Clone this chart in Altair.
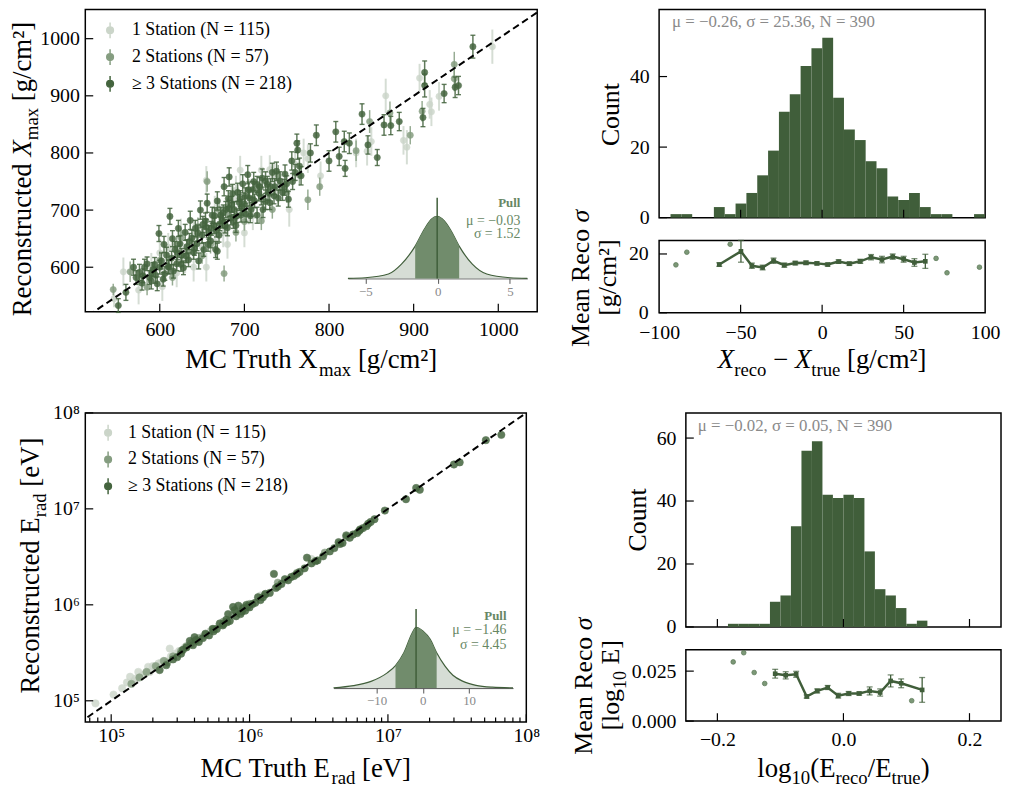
import altair as alt
import pandas as pd

FONT = "Liberation Serif"
DARK = "#405e3a"
COL3 = "#44643e"
COL2 = "#859d80"
COL1 = "#cbd5c9"
STAT_GRAY = "#8a8a8a"
INSET_LIGHT = "#c5cfc3"
INSET_DARK = "#718c6c"
INSET_TXT = "#678764"
ISO = "#6e8d69"

CATS = ["1 Station (N = 115)", "2 Stations (N = 57)", "≥ 3 Stations (N = 218)"]
CAT_COLORS = [COL1, COL2, COL3]

# ---------------- X_max scatter: (MC truth, reconstructed, error) ----------------
xmax_1 = [(546,545,15),(557,592,25),(575,560,25),(590,600,25),(603,566,25),(610,635,25),(620,590,25),
          (630,615,25),(640,655,25),(650,636,25),(655,600,25),(655,752,25),(665,700,25),(675,660,25),
          (685,720,25),(695,770,25),(700,660,25),(710,690,25),(720,770,25),(730,771,25),(740,735,25),
          (753,701,30),(760,780,25),(775,790,25),(790,760,25),(832,800,25),(845,803,25),(850,820,25),
          (867,900,30),(888,822,25),(892,810,30),(907,931,25),(919,885,25),(921,872,25),(930,899,25),
          (993,986,30),(770,800,25),(680,640,25),(640,600,25),(600,625,25),(625,660,25),(665,645,25),
          (690,735,25),(705,700,25),(735,760,25)]
xmax_2 = [(545,561,10),(565,592,18),(585,565,14),(600,612,16),(615,582,14),(625,652,16),(635,627,14),
          (645,671,16),(656,750,18),(660,640,16),(670,701,18),(676,589,14),(690,661,16),(705,736,18),
          (720,681,16),(733,701,16),(740,761,18),(750,731,18),(765,761,18),(775,718,18),(789,741,16),
          (832,804,18),(848,855,20),(872,870,20),(896,831,16),(910,873,18),(948,955,22),(948,930,22),
          (620,640,14),(650,620,14),(680,705,16),(700,680,16),(710,720,16),(590,590,14)]
xmax_3 = [(551,533,12),(560,556,14),(569,600,14),(572,582,12),(576,591,14),(579,572,12),(582,600,14),
          (585,606,12),(588,582,12),(590,576,14),(592,596,12),(595,586,14),(597,571,12),(599,659,14),
          (600,600,12),(602,611,14),(604,579,12),(606,589,12),(608,621,14),(610,601,12),(612,689,14),
          (614,616,12),(616,593,12),(618,631,14),(620,606,12),(622,668,14),(624,641,14),(626,621,12),
          (628,599,12),(630,661,14),(632,636,12),(634,613,12),(636,682,16),(638,651,14),(640,626,12),
          (642,668,14),(644,641,12),(646,611,14),(648,700,16),(650,656,14),(652,631,12),(654,681,14),
          (656,712,16),(658,661,12),(660,646,12),(662,691,14),(664,673,14),(666,631,14),(668,716,16),
          (668,628,14),(670,656,12),(672,691,14),(674,681,12),(676,741,16),(678,701,14),(680,669,14),
          (682,758,16),(682,703,14),(684,686,12),(686,729,16),(688,701,14),(690,673,12),(692,731,16),
          (694,713,14),(696,691,12),(698,746,16),(700,711,14),(702,693,14),(704,762,16),(706,721,14),
          (708,701,12),(710,736,14),(712,716,12),(715,691,14),(718,741,16),(720,723,14),(722,701,14),
          (725,751,16),(728,731,14),(730,713,12),(733,766,16),(736,741,14),(740,721,14),(742,751,16),
          (745,731,14),(748,763,16),(750,746,14),(752,719,14),(756,786,16),(760,766,14),(762,817,16),
          (763,805,16),(765,777,14),(767,760,16),(778,800,16),(785,831,18),(800,786,18),(808,837,18),
          (812,794,16),(818,820,18),(819,773,14),(824,817,18),(839,868,18),(846,814,16),(857,792,14),
          (865,849,18),(873,848,16),(883,855,16),(911,862,16),(913,941,20),(913,918,20),(936,904,16),
          (949,915,18),(953,918,16),(970,986,20),(645,660,14),(655,670,14),(665,690,14),(675,695,14),
          (685,710,14),(695,720,14),(705,735,14),(715,745,14),(725,715,14),(735,725,14),(605,640,14),
          (615,650,14),(625,605,12),(635,645,14),(657,640,12),(667,665,12),(677,672,12),(687,680,12),
          (697,705,14),(707,690,12),(717,730,14),(727,745,14),(747,740,14),(757,750,14),(580,585,12),
          (594,605,12),(611,600,12),(621,625,12),(631,620,12),(641,633,12),(651,675,14),(661,668,12),
          (671,676,12),(681,720,14),(691,690,12),(701,725,14),(711,750,16),(721,756,16),(731,741,14),
          (738,768,16)]

# ---------------- E_rad scatter: (MC truth, reconstructed) in eV ----------------
erad_1 = [(7.7e4,9.4e4),(1.04e5,1.16e5),(1.2e5,1.35e5),(1.3e5,1.55e5),(1.37e5,1.78e5),(1.45e5,1.6e5),
          (1.5e5,1.7e5),(1.57e5,2.0e5),(1.65e5,1.8e5),(1.75e5,1.9e5),(1.85e5,2.26e5),(1.9e5,2.0e5),
          (2.0e5,2.3e5),(2.1e5,2.2e5),(2.2e5,2.45e5),(2.3e5,2.5e5),(2.45e5,2.6e5),(2.65e5,3.5e5),
          (2.7e5,2.9e5),(2.9e5,3.1e5),(3.1e5,3.3e5),(3.4e5,3.6e5),(3.7e5,3.8e5),(4.1e5,4.2e5),
          (4.6e5,4.7e5),(5.2e5,5.3e5),(6.0e5,6.1e5),(7.5e5,7.8e5),(9.0e5,9.5e5),(1.2e6,1.25e6),
          (2.8e6,3.0e6)]
erad_2 = [(1.4e5,1.5e5),(1.6e5,1.75e5),(1.8e5,2.0e5),(2.1e5,2.3e5),(2.4e5,2.6e5),(2.55e5,2.5e5),
          (2.8e5,2.9e5),(3.2e5,3.3e5),(3.5e5,3.7e5),(3.8e5,4.0e5),(4.3e5,4.5e5),(4.8e5,4.9e5),
          (5.5e5,5.6e5),(6.5e5,6.7e5),(8.0e5,8.3e5),(1.0e6,1.02e6),(1.3e6,1.28e6),(1.6e6,1.7e6),
          (2.2e6,2.15e6),(3.5e6,3.5e6),(5.0e6,5.1e6)]
erad_3 = [(2.24e5,2.09e5),(2.5e5,2.35e5),(2.8e5,2.7e5),(3.0e5,2.85e5),(3.2e5,3.1e5),(3.5e5,3.6e5),
          (3.7e5,4.2e5),(3.9e5,3.8e5),(4.1e5,4.3e5),(4.3e5,4.1e5),(4.6e5,4.5e5),(4.8e5,5.0e5),
          (5.1e5,4.8e5),(5.4e5,5.6e5),(5.8e5,5.6e5),(6.1e5,6.4e5),(6.4e5,6.1e5),(6.8e5,7.0e5),
          (7.0e5,8.0e5),(7.2e5,6.8e5),(7.6e5,9.5e5),(7.8e5,8.8e5),(8.0e5,7.6e5),(8.3e5,9.8e5),
          (8.6e5,8.0e5),(9.0e5,9.2e5),(9.3e5,8.7e5),(9.7e5,9.6e5),(1.0e6,9.4e5),(1.05e6,1.02e6),
          (1.1e6,1.05e6),(1.15e6,1.2e6),(1.2e6,1.12e6),(1.3e6,1.3e6),(1.4e6,1.33e6),(1.5e6,2.1e6),
          (1.55e6,1.5e6),(1.7e6,1.65e6),(1.8e6,1.85e6),(1.9e6,1.8e6),(2.1e6,2.0e6),(2.3e6,2.2e6),
          (2.5e6,2.4e6),(2.6e6,3.1e6),(2.8e6,2.7e6),(3.1e6,2.9e6),(3.4e6,3.2e6),(3.8e6,3.6e6),
          (4.1e6,3.9e6),(4.4e6,4.5e6),(4.7e6,4.4e6),(5.0e6,5.3e6),(5.3e6,5.0e6),(5.6e6,5.4e6),
          (6.0e6,5.6e6),(6.3e6,6.1e6),(6.6e6,6.3e6),(7.0e6,6.6e6),(7.5e6,7.3e6),(8.0e6,7.8e6),
          (9.5e6,9.6e6),(1.35e7,1.26e7),(1.6e7,1.65e7),(1.7e7,1.58e7),(3.0e7,2.9e7),(3.3e7,3.05e7),
          (5.1e7,5.2e7),(6.6e7,5.9e7),(2.0e6,1.95e6),(1.25e6,1.2e6),(6.5e5,6.3e5),(4.0e5,4.6e5),
          (3.3e5,3.4e5),(5.5e5,5.3e5),(6.9e5,6.6e5),(8.8e5,8.5e5),(9.5e5,1.0e6),(1.6e6,1.55e6),
          (2.2e6,2.1e6),(3.0e6,2.85e6),(4.5e6,4.3e6),(6.2e6,5.9e6),(7.2e6,7.0e6)]

# ---------------- tick values ----------------
xmax_ticks = [600, 700, 800, 900, 1000]
erad_major = [1e5, 1e6, 1e7, 1e8]
erad_minor = [7e4, 8e4, 9e4, 2e5, 3e5, 4e5, 5e5, 6e5, 7e5, 8e5, 9e5, 2e6, 3e6, 4e6, 5e6, 6e6,
              7e6, 8e6, 9e6, 2e7, 3e7, 4e7, 5e7, 6e7, 7e7, 8e7, 9e7]

# ---------------- pull insets (density curves) ----------------
pullx_x = [-6.2, -5, -3.4, -2.5, -1.55, -0.9, -0.45, -0.03, 0.45, 0.9, 1.49, 2.4, 3.4, 5, 6.2]
pullx_d = [0.0, 0.01, 0.07, 0.23, 0.52, 0.8, 0.95, 1.0, 0.93, 0.78, 0.52, 0.23, 0.07, 0.01, 0.0]
pullx_mu, pullx_lo, pullx_hi = -0.03, -1.55, 1.49
pulle_x = [-19.3, -15, -11.2, -7.7, -5.91, -4.1, -2.4, -1.46, 0, 1.6, 2.99, 4.8, 6.5, 8.7, 11.5, 15, 19.5]
pulle_d = [0.005, 0.04, 0.11, 0.25, 0.37, 0.58, 0.89, 1.0, 0.94, 0.8, 0.58, 0.36, 0.21, 0.11, 0.045, 0.015, 0.004]
pulle_mu, pulle_lo, pulle_hi = -1.46, -5.91, 2.99

# ---------------- histograms ----------------
hx_edges = [-93.0, -86.35, -79.7, -73.05, -66.4, -59.75, -53.1, -46.45, -39.8, -33.15, -26.5, -19.85,
            -13.2, -6.55, 0.1, 6.75, 13.4, 20.05, 26.7, 33.35, 40.0, 46.65, 53.3, 59.95, 66.6, 73.25,
            79.9, 86.55, 93.2, 99.85]
hx_counts = [1, 1, 0, 0, 3, 1, 4, 7, 12, 19, 30, 35, 43, 48, 51, 34, 25, 22, 16, 14, 6, 5, 7, 3, 1, 1, 0, 0, 1]
he_edges = [-0.1832, -0.1665, -0.1499, -0.1332, -0.1166, -0.0999, -0.0833, -0.0666, -0.0500, -0.0333,
            -0.0167, 0.0000, 0.0166, 0.0333, 0.0499, 0.0666, 0.0832, 0.0999, 0.1165, 0.1332]
he_counts = [1, 1, 1, 1, 8, 10, 32, 56, 59, 42, 41, 42, 41, 24, 12, 10, 6, 1, 2]

# ---------------- mean reco sigma per bin ----------------
rx_x = [-63.1, -49.8, -43.1, -36.5, -29.8, -23.2, -16.5, -9.9, -3.2, 3.4, 10.1, 16.7, 23.4, 30.0, 36.7,
        43.3, 50.0, 56.6, 63.3]
rx_y = [16.4, 20.9, 16.0, 15.4, 17.7, 16.2, 16.9, 17.0, 16.8, 16.4, 17.4, 16.7, 17.5, 18.9, 18.1, 19.1,
        18.2, 17.1, 17.5]
rx_e = [0.6, 3.7, 0.9, 0.8, 0.9, 0.7, 0.6, 0.6, 0.5, 0.5, 0.6, 0.6, 0.7, 0.9, 1.1, 0.9, 1.0, 1.3, 2.4]
rx_iso_x = [-89.7, -83.0, -56.4, 69.9, 76.6, 96.5]
rx_iso_y = [16.3, 20.6, 23.3, 18.5, 13.6, 15.5]
re_x = [-0.1083, -0.0916, -0.0750, -0.0583, -0.0416, -0.0250, -0.0083, 0.0083, 0.0250, 0.0416, 0.0583,
        0.0749, 0.0916, 0.1249]
re_y = [0.0237, 0.0229, 0.0234, 0.0123, 0.0151, 0.0168, 0.0127, 0.0138, 0.0138, 0.0151, 0.0143, 0.0201,
        0.0189, 0.0156]
re_e = [0.0022, 0.0018, 0.0015, 0.0008, 0.0010, 0.0010, 0.0012, 0.0010, 0.0008, 0.0020, 0.0018, 0.0030,
        0.0022, 0.0062]
re_iso_x = [-0.1749, -0.1582, -0.1416, -0.1249, 0.1083]
re_iso_y = [0.0296, 0.0342, 0.0243, 0.0188, 0.0102]

# =====================================================================
ONE = pd.DataFrame({"a": [0]})
CAT_SCALE = alt.Scale(domain=CATS, range=CAT_COLORS)
SYM = "M-0.42,0A0.42,0.42 0 1,0 0.42,0A0.42,0.42 0 1,0 -0.42,0ZM0,-1L0,1"

WID = {' ': 250, '(': 333, ')': 333, '[': 333, ']': 333, '/': 278, '−': 564, '=': 564, ',': 250,
       '.': 250, '²': 300, 'C': 667, 'E': 611, 'M': 889, 'N': 722, 'R': 667, 'T': 611, 'X': 722,
       'V': 722, 'a': 444, 'c': 444, 'd': 500, 'e': 444, 'g': 500, 'h': 500, 'l': 278, 'm': 778,
       'n': 500, 'o': 500, 'r': 333, 's': 389, 't': 278, 'u': 500, 'x': 500, 'σ': 550}


def tw(s, fs, italic=False):
    tot = 0
    for ch in s:
        tot += 611 if (italic and ch == 'X') else WID.get(ch, 500)
    return tot * fs / 1000.0


def pieces(parts, x, y, size=27, angle=0, color="black"):
    """Math-like label built from text runs (normal / italic / subscript)."""
    sizes = [size * 0.7 if k == "sub" else size for _, k in parts]
    widths = [tw(t, fs, k == "it") for (t, k), fs in zip(parts, sizes)]
    off = -sum(widths) / 2.0
    out = []
    for (t, k), fs, w in zip(parts, sizes, widths):
        lead = len(t) - len(t.lstrip(' '))
        out.append(alt.Chart(ONE).mark_text(
            text=t.strip(), align="left", baseline="alphabetic", font=FONT, fontSize=fs,
            fontStyle="italic" if k == "it" else "normal", angle=angle,
            dx=off + lead * 0.25 * fs, dy=size * 0.27 if k == "sub" else 0, color=color
        ).encode(x=alt.value(x), y=alt.value(y)))
        off += w
    return out


def note(text, x, y, size, color, align="left", weight="normal"):
    return alt.Chart(ONE).mark_text(text=text, align=align, baseline="middle", font=FONT,
                                    fontSize=size, color=color, fontWeight=weight
                                    ).encode(x=alt.value(x), y=alt.value(y))


def axis(**kw):
    return alt.Axis(labelFont=FONT, labelFontSize=20, labelColor="black", title=None, **kw)


def xticks(vals, scale, ax, h, length=8):
    return alt.Chart(pd.DataFrame({"v": vals})).mark_rule(color="black", strokeWidth=1.2).encode(
        x=alt.X("v:Q", scale=scale, axis=ax), y=alt.value(h), y2=alt.value(h - length))


def yticks(vals, scale, ay, length=8):
    return alt.Chart(pd.DataFrame({"v": vals})).mark_rule(color="black", strokeWidth=1.2).encode(
        y=alt.Y("v:Q", scale=scale, axis=ay), x=alt.value(0), x2=alt.value(length))


def make_legend(lx, ly, loff):
    return alt.Legend(title=None, orient="none", legendX=lx, legendY=ly, symbolType=SYM,
                      symbolSize=256, symbolStrokeWidth=1.5, symbolOpacity=1, labelFont=FONT,
                      labelFontSize=18, labelOffset=loff, rowPadding=5, padding=0, labelLimit=400)


def scatter_cat(pts, cat, xs, ys, ax, ay, legend, err=True, caps=False, size=40, opacity=0.85, bar_w=1.5):
    color = CAT_COLORS[CATS.index(cat)]
    df = pd.DataFrame({"t": [p[0] for p in pts], "r": [p[1] for p in pts], "cat": cat})
    layers = []
    if err:
        df["e"] = [p[2] for p in pts]
        base = alt.Chart(df).transform_calculate(lo="datum.r - datum.e", hi="datum.r + datum.e")
        layers.append(base.mark_rule(color=color, strokeWidth=bar_w, opacity=opacity).encode(
            x=alt.X("t:Q", scale=xs, axis=ax), y=alt.Y("lo:Q", scale=ys, axis=ay), y2="hi:Q"))
        if caps:
            for f in ("lo", "hi"):
                layers.append(base.mark_tick(orient="horizontal", size=5, thickness=1.4, color=color,
                                             opacity=opacity).encode(
                    x=alt.X("t:Q", scale=xs, axis=ax), y=alt.Y(f + ":Q", scale=ys, axis=ay)))
    layers.append(alt.Chart(df).mark_circle(size=size, opacity=opacity, strokeWidth=0.6).encode(
        x=alt.X("t:Q", scale=xs, axis=ax), y=alt.Y("r:Q", scale=ys, axis=ay),
        fill=alt.Fill("cat:N", scale=CAT_SCALE, legend=legend),
        stroke=alt.Stroke("cat:N", scale=CAT_SCALE, legend=legend)))
    return layers


def inset(dens_x, dens_d, mu, lo, hi, x_range, y_range, h, tick_vals, texts, tx, ty):
    ix = alt.Scale(domain=[dens_x[0], dens_x[-1]], range=x_range, nice=False, zero=False)
    iy = alt.Scale(domain=[0, 1], range=y_range, nice=False, zero=False)
    iax = alt.Axis(values=tick_vals, orient="bottom", offset=y_range[0] - h, domain=True,
                   domainColor="#555555", domainWidth=1, ticks=True, tickSize=5, tickColor="#555555",
                   tickWidth=1, labelColor=STAT_GRAY, labelFont=FONT, labelFontSize=13, labelPadding=2,
                   labelFlush=False, title=None)
    df = pd.DataFrame({"p": dens_x, "d": dens_d})
    light = alt.Chart(df).mark_area(color=INSET_LIGHT, interpolate="monotone",
                                    line={"color": DARK, "strokeWidth": 1.2}).encode(
        x=alt.X("p:Q", scale=ix, axis=iax), y=alt.Y("d:Q", scale=iy, axis=None), y2=alt.datum(0))
    band = alt.Chart(df).transform_filter(
        f"datum.p >= {lo} && datum.p <= {hi}").mark_area(color=INSET_DARK, interpolate="monotone").encode(
        x=alt.X("p:Q", scale=ix, axis=iax), y=alt.Y("d:Q", scale=iy, axis=None), y2=alt.datum(0))
    rule = alt.Chart(pd.DataFrame({"m": [mu], "top": [1.3]})).mark_rule(color=DARK, strokeWidth=1.5).encode(
        x=alt.X("m:Q", scale=ix, axis=iax), y=alt.Y("top:Q", scale=iy, axis=None), y2=alt.datum(0))
    txt = [note(texts[0], tx, ty[0], 13, INSET_TXT, "right", "bold"),
           note(texts[1], tx, ty[1], 14, INSET_TXT, "right"),
           note(texts[2], tx, ty[2], 14, INSET_TXT, "right")]
    return alt.layer(light, band, rule, *txt)


def resid(xl, yl, el, xi, yi, xs, ys, ax, ay, cap):
    dl = pd.DataFrame({"x": xl, "y": yl, "e": el})
    base = alt.Chart(dl).transform_calculate(lo="datum.y - datum.e", hi="datum.y + datum.e")
    line = alt.Chart(dl).mark_line(color=DARK, strokeWidth=2.5).encode(
        x=alt.X("x:Q", scale=xs, axis=ax), y=alt.Y("y:Q", scale=ys, axis=ay))
    bars = base.mark_rule(color=DARK, strokeWidth=1.3).encode(
        x=alt.X("x:Q", scale=xs, axis=ax), y=alt.Y("lo:Q", scale=ys, axis=ay), y2="hi:Q")
    caps = [base.mark_tick(orient="horizontal", size=cap, thickness=1.3, color=DARK).encode(
        x=alt.X("x:Q", scale=xs, axis=ax), y=alt.Y(f + ":Q", scale=ys, axis=ay)) for f in ("lo", "hi")]
    marks = alt.Chart(dl).mark_square(size=22, color=DARK, opacity=1).encode(
        x=alt.X("x:Q", scale=xs, axis=ax), y=alt.Y("y:Q", scale=ys, axis=ay))
    iso = alt.Chart(pd.DataFrame({"x": xi, "y": yi})).mark_circle(
        size=22, color=ISO, stroke="#4f6f4a", strokeWidth=0.8, opacity=0.9).encode(
        x=alt.X("x:Q", scale=xs, axis=ax), y=alt.Y("y:Q", scale=ys, axis=ay))
    return [line, bars] + caps + [marks, iso]


def hist(edges, counts, xs, ys, ay):
    df = pd.DataFrame({"lo": edges[:-1], "hi": edges[1:], "n": counts})
    return alt.Chart(df).transform_calculate(z="0").mark_rect(color=DARK).encode(
        x=alt.X("lo:Q", scale=xs, axis=None), x2="hi:Q",
        y=alt.Y("n:Q", scale=ys, axis=ay), y2="z:Q")


# ====================== TOP-LEFT: X_max scatter ======================
TLW, TLH = 456, 305
xs_tl = alt.Scale(domain=[512, 1046], nice=False, zero=False)
ys_tl = alt.Scale(domain=[522, 1051], nice=False, zero=False)
ax_tl = axis(values=xmax_ticks, format="d", labelPadding=8)
ay_tl = axis(values=xmax_ticks, format="d", labelPadding=6)
leg_tl = make_legend(16, 12, 13)
diag_tl = alt.Chart(pd.DataFrame({"v": [505, 1051]})).mark_line(
    color="black", strokeDash=[7, 4], strokeWidth=2, clip=True).encode(
    x=alt.X("v:Q", scale=xs_tl, axis=ax_tl), y=alt.Y("v:Q", scale=ys_tl, axis=ay_tl))
tl_main = alt.layer(
    *scatter_cat(xmax_1, CATS[0], xs_tl, ys_tl, ax_tl, ay_tl, leg_tl, bar_w=2.0, opacity=0.8),
    *scatter_cat(xmax_2, CATS[1], xs_tl, ys_tl, ax_tl, ay_tl, leg_tl, opacity=0.85),
    *scatter_cat(xmax_3, CATS[2], xs_tl, ys_tl, ax_tl, ay_tl, leg_tl, caps=True, opacity=0.85),
    diag_tl, xticks(xmax_ticks, xs_tl, ax_tl, TLH), yticks(xmax_ticks, ys_tl, ay_tl),
    *pieces([("Reconstructed ", "n"), ("X", "it"), ("max", "sub"), (" [g/cm²]", "n")], -55, 161, angle=270),
    *pieces([("MC Truth X", "n"), ("max", "sub"), (" [g/cm²]", "n")], TLW / 2, 362),
)
tl_inset = inset(pullx_x, pullx_d, pullx_mu, pullx_lo, pullx_hi, [265, 446], [271.3, 208.7],
                 TLH, [-5, 0, 5], ["Pull", "μ = −0.03", "σ = 1.52"], 439, [195, 213, 227])
TL = alt.layer(tl_main, tl_inset).resolve_scale(x="independent", y="independent").properties(
    width=TLW, height=TLH)

# ====================== TOP-RIGHT: X residual histogram ======================
TRW, TRH, TRRH = 329, 210, 73
xs_tr = alt.Scale(domain=[-100, 100], nice=False, zero=False)
ys_trh = alt.Scale(domain=[0, 59], nice=False, zero=False)
ys_trr = alt.Scale(domain=[0, 24.6], nice=False, zero=False)
ay_trh = axis(values=[0, 20, 40], labelPadding=10)
ax_trr = axis(values=[-100, -50, 0, 50, 100], format="d", labelPadding=10)
ay_trr = axis(values=[0, 20], format="d", labelPadding=11)
tr_hist = alt.layer(
    hist(hx_edges, hx_counts, xs_tr, ys_trh, ay_trh),
    xticks([-50, 0, 50], xs_tr, None, TRH), yticks([0, 20, 40], ys_trh, ay_trh),
    note("μ = −0.26, σ = 25.36, N = 390", 13, 13, 17, STAT_GRAY),
    *pieces([("Count", "n")], -40, TRH / 2 + 1, size=26, angle=270),
).properties(width=TRW, height=TRH)
tr_res = alt.layer(
    *resid(rx_x, rx_y, rx_e, rx_iso_x, rx_iso_y, xs_tr, ys_trr, ax_trr, ay_trr, 6),
    xticks([-50, 0, 50], xs_tr, ax_trr, TRRH), yticks([0, 20], ys_trr, ay_trr),
    *pieces([("Mean Reco ", "n"), ("σ", "it")], -71, TRRH / 2 + 1, size=26, angle=270),
    *pieces([("[g/cm²]", "n")], -43, TRRH / 2 + 1, size=26, angle=270),
    *pieces([("X", "it"), ("reco", "sub"), (" − ", "n"), ("X", "it"), ("true", "sub"), (" [g/cm²]", "n")],
            TRW / 2, 129),
).properties(width=TRW, height=TRRH)
TR = alt.vconcat(tr_hist, tr_res, spacing=23, bounds="flush")

# ====================== BOTTOM-LEFT: E_rad scatter ======================
BLW, BLH = 445, 312
xs_bl = alt.Scale(type="log", domain=[6.5e4, 1e8], nice=False)
ys_bl = alt.Scale(type="log", domain=[6.0e4, 1e8], nice=False)
sup_expr = "'10' + ['⁰','¹','²','³','⁴','⁵','⁶','⁷','⁸','⁹'][round(log(datum.value)/LN10)]"
ax_bl = axis(values=erad_major, labelExpr=sup_expr, labelPadding=4)
ay_bl = axis(values=erad_major, labelExpr=sup_expr, labelPadding=6)
leg_bl = make_legend(14, 11, 11)
diag_bl = alt.Chart(pd.DataFrame({"v": [5e4, 1e8]})).mark_line(
    color="black", strokeDash=[7, 4], strokeWidth=2, clip=True).encode(
    x=alt.X("v:Q", scale=xs_bl, axis=ax_bl), y=alt.Y("v:Q", scale=ys_bl, axis=ay_bl))
bl_main = alt.layer(
    *scatter_cat(erad_1, CATS[0], xs_bl, ys_bl, ax_bl, ay_bl, leg_bl, err=False, size=55, opacity=0.8),
    *scatter_cat(erad_2, CATS[1], xs_bl, ys_bl, ax_bl, ay_bl, leg_bl, err=False, size=55, opacity=0.85),
    *scatter_cat(erad_3, CATS[2], xs_bl, ys_bl, ax_bl, ay_bl, leg_bl, err=False, size=55, opacity=0.85),
    diag_bl, xticks(erad_major, xs_bl, ax_bl, BLH), xticks(erad_minor, xs_bl, ax_bl, BLH, 4.5),
    yticks(erad_major, ys_bl, ay_bl),
    *pieces([("Reconstructed E", "n"), ("rad", "sub"), (" [eV]", "n")], -47, BLH / 2 - 2, angle=270),
    *pieces([("MC Truth E", "n"), ("rad", "sub"), (" [eV]", "n")], BLW / 2, 367),
)
bl_inset = inset(pulle_x, pulle_d, pulle_mu, pulle_lo, pulle_hi, [250.5, 431.6], [277.7, 216.3],
                 BLH, [-10, 0, 10], ["Pull", "μ = −1.46", "σ = 4.45"], 425, [205, 219, 234])
BL = alt.layer(bl_main, bl_inset).resolve_scale(x="independent", y="independent").properties(
    width=BLW, height=BLH)

# ====================== BOTTOM-RIGHT: E residual histogram ======================
BRW, BRH, BRRH = 318, 216, 72
xs_br = alt.Scale(domain=[-0.25, 0.25], nice=False, zero=False)
ys_brh = alt.Scale(domain=[0, 68], nice=False, zero=False)
ys_brr = alt.Scale(domain=[0, 0.0357], nice=False, zero=False)
ay_brh = axis(values=[0, 20, 40, 60], labelPadding=10)
ax_brr = axis(values=[-0.2, 0.0, 0.2], format=".1f", labelPadding=9)
ay_brr = axis(values=[0, 0.025], format=".3f", labelPadding=10)
br_hist = alt.layer(
    hist(he_edges, he_counts, xs_br, ys_brh, ay_brh),
    xticks([-0.2, 0.0, 0.2], xs_br, None, BRH), yticks([0, 20, 40, 60], ys_brh, ay_brh),
    note("μ = −0.02, σ = 0.05, N = 390", 12, 13, 17, STAT_GRAY),
    *pieces([("Count", "n")], -40, BRH / 2, size=26, angle=270),
).properties(width=BRW, height=BRH)
br_res = alt.layer(
    *resid(re_x, re_y, re_e, re_iso_x, re_iso_y, xs_br, ys_brr, ax_brr, ay_brr, 6),
    xticks([-0.2, 0.0, 0.2], xs_br, ax_brr, BRRH), yticks([0, 0.025], ys_brr, ay_brr),
    *pieces([("Mean Reco ", "n"), ("σ", "it")], -95, BRRH / 2, size=26, angle=270),
    *pieces([("[log", "n"), ("10", "sub"), (" E]", "n")], -67, BRRH / 2, size=26, angle=270),
    *pieces([("log", "n"), ("10", "sub"), ("(E", "n"), ("reco", "sub"), ("/E", "n"), ("true", "sub"), (")", "n")],
            BRW / 2, 128),
).properties(width=BRW, height=BRRH)
BR = alt.vconcat(br_hist, br_res, spacing=23, bounds="flush")

# ====================== assemble ======================
top_row = alt.hconcat(TL, TR, spacing=29).resolve_scale(fill="independent", stroke="independent")
bot_row = alt.hconcat(BL, BR, spacing=29).resolve_scale(fill="independent", stroke="independent")
chart = alt.vconcat(top_row, bot_row, spacing=22).resolve_scale(
    fill="independent", stroke="independent").properties(
    padding={"top": -3, "left": 0, "right": 0, "bottom": 0}).configure_view(
    stroke="black", strokeWidth=1.5).configure_axis(
    domain=False, ticks=False, tickSize=0, grid=False, labelFont=FONT, labelFontSize=20,
    labelColor="black", labelFlush=False, labelOverlap=False).configure_legend(labelFont=FONT)

chart.save("out.html", embed_options={"renderer": "svg", "actions": False})
